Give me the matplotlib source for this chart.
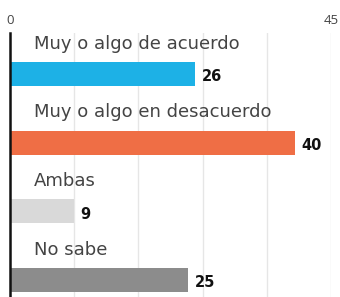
import matplotlib.pyplot as plt

categories = ["Muy o algo de acuerdo", "Muy o algo en desacuerdo", "Ambas", "No sabe"]
values = [26, 40, 9, 25]
colors = ["#1db1e6", "#ef6e45", "#d9d9d9", "#8c8c8c"]

plt.rcParams['font.family'] = ['Open Sans', 'DejaVu Sans']

fig = plt.figure(figsize=(3.4, 2.97), dpi=100)
ax = fig.add_axes([10 / 340, 0, 321 / 340, 1 - 33 / 297])

ypos = list(range(len(values)))
ax.barh(ypos, values, height=0.35, color=colors, zorder=2)

for y, v, c in zip(ypos, values, categories):
    ax.text(v + 0.9, y + 0.04, str(v), va='center', ha='left',
            fontsize=10.5, fontweight='bold', family='DejaVu Sans', color='#111111')
    ax.text(3.4, y - 0.44, c, va='center', ha='left', fontsize=13,
            family='DejaVu Sans', color='#444444')

ax.set_xlim(0, 45)
ax.set_ylim(3.246, -0.594)
ax.set_xticks([0, 9, 18, 27, 36, 45])
ax.xaxis.tick_top()
ax.set_xticklabels(["0", "", "", "", "", "45"])
ax.tick_params(axis='x', length=0, pad=4, labelsize=9.5, labelcolor='#444444')
ax.set_yticks([])
ax.grid(axis='x', color='#e6e6e6', linewidth=1, zorder=0)
for s in ['top', 'right', 'bottom']:
    ax.spines[s].set_visible(False)
ax.spines['left'].set_linewidth(1.8)
ax.spines['left'].set_color('#111111')

fig.savefig("out.png", dpi=100)
